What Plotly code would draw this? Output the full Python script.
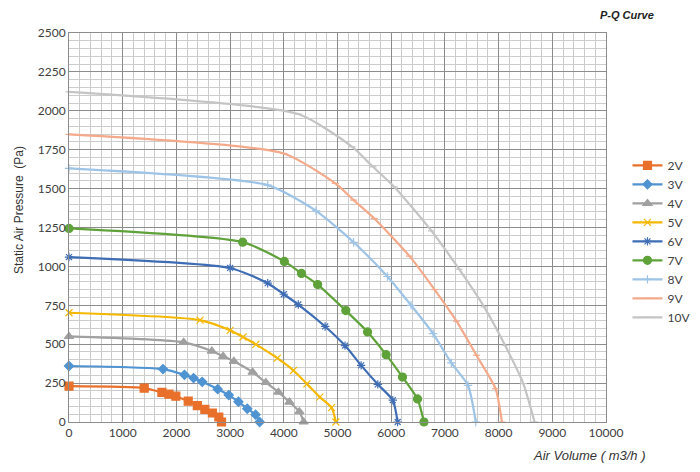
import plotly.graph_objects as go

# P-Q curves of the fan at different control voltages
VOLTAGES = ["2V", "3V", "4V", "5V", "6V", "7V", "8V", "9V", "10V"]

air_2v = [0, 1400, 1730, 1860, 1990, 2220, 2390, 2530, 2670, 2790, 2840]
pres_2v = [230, 218, 190, 179, 166, 134, 105, 81, 58, 32, 0]

air_3v = [0, 1750, 2150, 2320, 2480, 2770, 2975, 3155, 3320, 3475, 3550]
pres_3v = [360, 340, 303, 282, 258, 211, 173, 130, 85, 47, 0]

air_4v = [0, 2135, 2660, 2870, 3070, 3420, 3665, 3900, 4105, 4290, 4370]
pres_4v = [550, 512, 456, 422, 390, 320, 254, 192, 128, 66, 0]

air_5v = [0, 2440, 3000, 3240, 3480, 3880, 4180, 4430, 4670, 4890, 4970]
pres_5v = [702, 655, 589, 546, 499, 410, 331, 245, 160, 92, 0]

air_6v = [0, 3000, 3700, 4000, 4270, 4770, 5140, 5440, 5750, 6030, 6120]
pres_6v = [1060, 990, 892, 821, 755, 614, 491, 364, 242, 140, 0]

air_7v = [0, 3235, 4010, 4330, 4630, 5155, 5560, 5905, 6210, 6490, 6610]
pres_7v = [1244, 1156, 1032, 955, 883, 716, 579, 433, 289, 148, 0]

air_8v = [0, 3700, 4600, 5300, 5930, 6370, 6780, 7120, 7430, 7575]
pres_8v = [1630, 1522, 1357, 1155, 935, 750, 568, 380, 236, 0]

air_9v = [0, 4000, 4960, 5300, 5685, 6340, 6808, 7216, 7587, 7944, 8062]
pres_9v = [1848, 1726, 1533, 1426, 1308, 1066, 851, 648, 429, 214, 0]

air_10v = [0, 4270, 5270, 5660, 6060, 6750, 7265, 7730, 8120, 8460, 8670]
pres_10v = [2122, 1979, 1769, 1640, 1511, 1228, 982, 740, 493, 247, 0]

X_TICKS = list(range(0, 10001, 1000))
X_LABELS = [str(v) for v in X_TICKS]
Y_TICKS = list(range(0, 2501, 250))

COLORS = ["#E8702A", "#4F93D2", "#A0A0A0", "#F5B800", "#3E6DB5",
          "#5FA23A", "#9DC3E6", "#F4A98A", "#C4C4C4"]
SYMBOLS = ["square", "diamond", "triangle-up", "x-thin", "asterisk",
           "circle", "cross-thin", "line-ew", "line-ew"]
SIZES = [8, 7, 8, 7, 7, 8, 6, 5, 5]

series = [
    (air_2v, pres_2v), (air_3v, pres_3v), (air_4v, pres_4v),
    (air_5v, pres_5v), (air_6v, pres_6v), (air_7v, pres_7v),
    (air_8v, pres_8v), (air_9v, pres_9v), (air_10v, pres_10v),
]

fig = go.Figure()
for name, (x, y), color, symbol, size in zip(VOLTAGES, series, COLORS, SYMBOLS, SIZES):
    fig.add_trace(go.Scatter(
        x=x, y=y, name=name, mode="lines+markers",
        line=dict(color=color, width=2.2, shape="spline", smoothing=0.6),
        marker=dict(symbol=symbol, size=size, color=color,
                    line=dict(color=color, width=1.2)),
        cliponaxis=False,
    ))

tick_font = dict(family="Lato, Liberation Sans, sans-serif", size=12, color="#404040")

fig.update_layout(
    width=700, height=472,
    margin=dict(l=61, r=99, t=25, b=58),
    paper_bgcolor="white", plot_bgcolor="white",
    showlegend=True,
    legend=dict(x=1.04, y=0.697, xanchor="left", yanchor="top",
                font=dict(family="Lato, Liberation Sans, sans-serif", size=12, color="#404040"),
                itemwidth=30, tracegroupgap=0, bgcolor="rgba(0,0,0,0)"),
    xaxis=dict(
        range=[0, 10000], tickvals=X_TICKS, ticktext=X_LABELS, showgrid=True,
        gridcolor="#8C8C8C", gridwidth=1, zeroline=False,
        showline=True, linecolor="#8C8C8C", mirror=True,
        tickfont=tick_font, ticks="", ticklen=0,
        minor=dict(dtick=200, showgrid=True, gridcolor="#CCCCCC", gridwidth=1),
    ),
    yaxis=dict(
        range=[0, 2500], tickvals=Y_TICKS, showgrid=True,
        gridcolor="#8C8C8C", gridwidth=1, zeroline=False,
        showline=True, linecolor="#8C8C8C", mirror=True,
        tickfont=tick_font, ticks="", ticklen=0,
        minor=dict(dtick=50, showgrid=True, gridcolor="#CCCCCC", gridwidth=1),
    ),
    annotations=[
        dict(text="<b><i>P-Q Curve</i></b>", xref="paper", yref="paper",
             x=1.04, y=1.047, xanchor="center", yanchor="middle", showarrow=False,
             font=dict(family="Liberation Sans, Arial, sans-serif", size=11, color="#222222")),
        dict(text="<i>Air Volume ( m3/h )</i>", xref="paper", yref="paper",
             x=0.97, y=-0.085, xanchor="center", yanchor="middle", showarrow=False,
             font=dict(family="Liberation Sans, Arial, sans-serif", size=13, color="#333333")),
        dict(text="Static Air Pressure  (Pa)", xref="paper", yref="paper",
             x=-0.093, y=0.545, xanchor="center", yanchor="middle", showarrow=False,
             textangle=-90,
             font=dict(family="Liberation Sans, Arial, sans-serif", size=12, color="#333333")),
    ],
)

fig.write_html("out.html")
